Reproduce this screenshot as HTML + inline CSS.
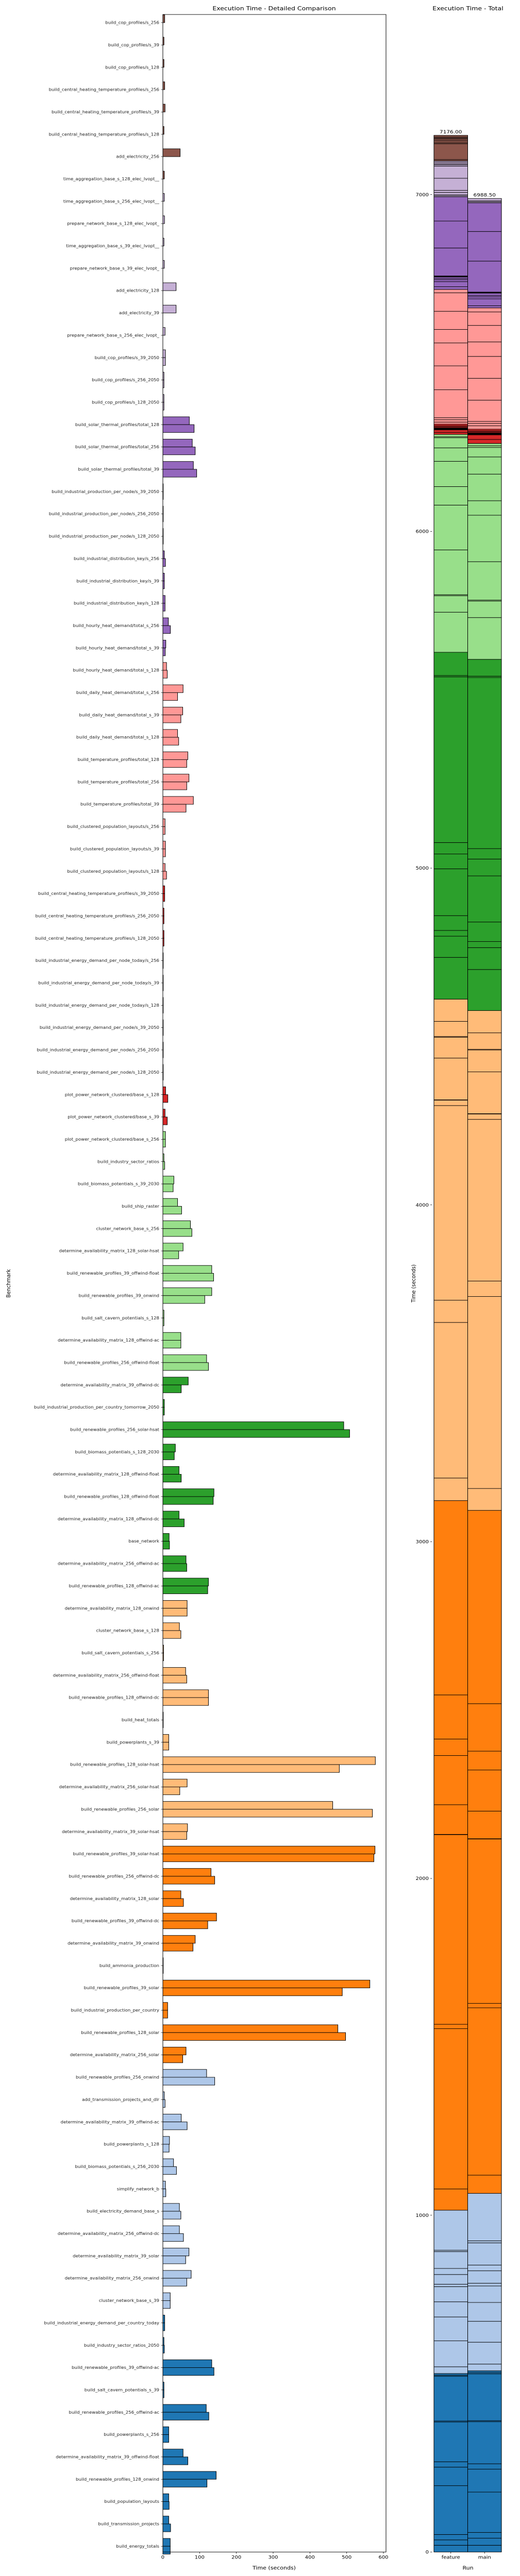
<!DOCTYPE html>
<html>
<head>
<meta charset="utf-8">
<style>
  html,body{margin:0;padding:0;background:#fff;overflow:hidden;width:100%;height:100%;}
  svg{display:block;position:absolute;left:0;top:0;width:100vw;height:100vh;font-family:"DejaVu Sans","Liberation Sans",sans-serif;}
</style>
</head>
<body>
<svg id="chart" xmlns="http://www.w3.org/2000/svg" viewBox="0 0 1009 5690" preserveAspectRatio="none">
  <rect x="0" y="0" width="1009" height="5690" fill="#fff"/>
  <text x="532" y="23" font-size="12.5" text-anchor="middle" fill="#000">Execution Time - Detailed Comparison</text>
  <text x="908" y="23" font-size="12.5" text-anchor="middle" fill="#000">Execution Time - Total</text>
  <text x="0" y="0" font-size="11" text-anchor="middle" transform="translate(20,2835) rotate(-90)">Benchmark</text>
  <text x="532" y="5676" font-size="11" text-anchor="middle">Time (seconds)</text>
  <text x="0" y="0" font-size="11" text-anchor="middle" transform="translate(806,2835) rotate(-90)">Time (seconds)</text>
  <text x="908" y="5676" font-size="11" text-anchor="middle">Run</text>
  <g id="left"></g>
  <g id="right"></g>
</svg>
<script>
const benchmarks = [
"build_cop_profiles/s_256","build_cop_profiles/s_39","build_cop_profiles/s_128",
"build_central_heating_temperature_profiles/s_256","build_central_heating_temperature_profiles/s_39","build_central_heating_temperature_profiles/s_128",
"add_electricity_256","time_aggregation_base_s_128_elec_lvopt__","time_aggregation_base_s_256_elec_lvopt__",
"prepare_network_base_s_128_elec_lvopt_","time_aggregation_base_s_39_elec_lvopt__","prepare_network_base_s_39_elec_lvopt_",
"add_electricity_128","add_electricity_39","prepare_network_base_s_256_elec_lvopt_",
"build_cop_profiles/s_39_2050","build_cop_profiles/s_256_2050","build_cop_profiles/s_128_2050",
"build_solar_thermal_profiles/total_128","build_solar_thermal_profiles/total_256","build_solar_thermal_profiles/total_39",
"build_industrial_production_per_node/s_39_2050","build_industrial_production_per_node/s_256_2050","build_industrial_production_per_node/s_128_2050",
"build_industrial_distribution_key/s_256","build_industrial_distribution_key/s_39","build_industrial_distribution_key/s_128",
"build_hourly_heat_demand/total_s_256","build_hourly_heat_demand/total_s_39","build_hourly_heat_demand/total_s_128",
"build_daily_heat_demand/total_s_256","build_daily_heat_demand/total_s_39","build_daily_heat_demand/total_s_128",
"build_temperature_profiles/total_128","build_temperature_profiles/total_256","build_temperature_profiles/total_39",
"build_clustered_population_layouts/s_256","build_clustered_population_layouts/s_39","build_clustered_population_layouts/s_128",
"build_central_heating_temperature_profiles/s_39_2050","build_central_heating_temperature_profiles/s_256_2050","build_central_heating_temperature_profiles/s_128_2050",
"build_industrial_energy_demand_per_node_today/s_256","build_industrial_energy_demand_per_node_today/s_39","build_industrial_energy_demand_per_node_today/s_128",
"build_industrial_energy_demand_per_node/s_39_2050","build_industrial_energy_demand_per_node/s_256_2050","build_industrial_energy_demand_per_node/s_128_2050",
"plot_power_network_clustered/base_s_128","plot_power_network_clustered/base_s_39","plot_power_network_clustered/base_s_256",
"build_industry_sector_ratios","build_biomass_potentials_s_39_2030","build_ship_raster","cluster_network_base_s_256",
"determine_availability_matrix_128_solar-hsat","build_renewable_profiles_39_offwind-float","build_renewable_profiles_39_onwind",
"build_salt_cavern_potentials_s_128","determine_availability_matrix_128_offwind-ac","build_renewable_profiles_256_offwind-float",
"determine_availability_matrix_39_offwind-dc","build_industrial_production_per_country_tomorrow_2050","build_renewable_profiles_256_solar-hsat",
"build_biomass_potentials_s_128_2030","determine_availability_matrix_128_offwind-float","build_renewable_profiles_128_offwind-float",
"determine_availability_matrix_128_offwind-dc","base_network","determine_availability_matrix_256_offwind-ac","build_renewable_profiles_128_offwind-ac",
"determine_availability_matrix_128_onwind","cluster_network_base_s_128","build_salt_cavern_potentials_s_256",
"determine_availability_matrix_256_offwind-float","build_renewable_profiles_128_offwind-dc","build_heat_totals","build_powerplants_s_39",
"build_renewable_profiles_128_solar-hsat","determine_availability_matrix_256_solar-hsat","build_renewable_profiles_256_solar",
"determine_availability_matrix_39_solar-hsat","build_renewable_profiles_39_solar-hsat","build_renewable_profiles_256_offwind-dc",
"determine_availability_matrix_128_solar","build_renewable_profiles_39_offwind-dc","determine_availability_matrix_39_onwind",
"build_ammonia_production","build_renewable_profiles_39_solar","build_industrial_production_per_country","build_renewable_profiles_128_solar",
"determine_availability_matrix_256_solar","build_renewable_profiles_256_onwind","add_transmission_projects_and_dlr",
"determine_availability_matrix_39_offwind-ac","build_powerplants_s_128","build_biomass_potentials_s_256_2030","simplify_network_b",
"build_electricity_demand_base_s","determine_availability_matrix_256_offwind-dc","determine_availability_matrix_39_solar",
"determine_availability_matrix_256_onwind","cluster_network_base_s_39","build_industrial_energy_demand_per_country_today",
"build_industry_sector_ratios_2050","build_renewable_profiles_39_offwind-ac","build_salt_cavern_potentials_s_39",
"build_renewable_profiles_256_offwind-ac","build_powerplants_s_256","determine_availability_matrix_39_offwind-float",
"build_renewable_profiles_128_onwind","build_population_layouts","build_transmission_projects","build_energy_totals"
];
const featureTimes = [
5,3,3,5,6,3,47,4,4,4.5,3,4,36,36,6,7,3,3,72,80,83,1,1,1,4,4,6,15,8,10,
55,54,40,68,71,83,6,7,6,5,3,3,1,1,1,1,1,1,7.5,6,7,3,30,40,75,55,133,133,3,49,
119,69,4,492,34,44,139,44,17,63,124,66,45,2,62,124,1,16,578,66,462,67,577,131,49,146,88,1,563,13,
476,63,119,4,50,18,29,7,45,45,71,77,20,5,3,133,3,118,16,55,145,16,16,20
];
const mainTimes = [
0,0,0,0,0,0,0,0,0,0,0,0,0,0,0,7,3,3,85,88,92,1,1,1,7,4,6,20.5,6.5,12,
40,49,43,65,65,63,6,7,10,5,3,3,1,1,1,1,1,1,13.5,12,7,5,28,51,79,43,138,114,3,49,
124,50,4,508,31,50,137,58,18,65,122,66,49,2,65,124,1,16,480,46,570,65,574,141,56,122,82,1,488,13,
497,54,141,6,66,17,37,8,49,56,62,65,20,5,4,139,3,125,16,68,120,17,21,20
];
const runs = ["feature","main"];
const xTicks = [0,100,200,300,400,500,600];
const yTicksTotal = [0,1000,2000,3000,4000,5000,6000,7000];
const groupStarts = [0,8,18,29,39,50,61,71,82,92,103];
const groupColors = ["#8c564b","#c5b0d5","#9467bd","#ff9896","#d62728","#98df8a","#2ca02c","#ffbb78","#ff7f0e","#aec7e8","#1f77b4"];

const NS = "http://www.w3.org/2000/svg";
function mk(tag, attrs, parent){ const e=document.createElementNS(NS,tag); for(const k in attrs) e.setAttribute(k,attrs[k]); parent.appendChild(e); return e; }
function colorFor(i){ let c=groupColors[0]; for(let g=0; g<groupStarts.length; g++){ if(i>=groupStarts[g]) c=groupColors[g]; } return c; }

const L = {x0:316, x1:749, top:32, bottom:5637, xmax:607};
const rowStep = 49.33, rowY0 = 50, barH = 17.3;
function xL(v){ return L.x0 + v/L.xmax*(L.x1-L.x0); }
function yRow(i){ return rowY0 + i*rowStep; }
const left = document.getElementById('left');

for(let i=0;i<benchmarks.length;i++){
  const yc = yRow(i), col = colorFor(i);
  const g = mk('g',{},left);
  
  
  if(featureTimes[i]>0){
    const r = mk('rect',{x:xL(0),y:yc-barH,width:Math.max(0,xL(featureTimes[i])-xL(0)),height:barH,fill:col,stroke:'#000','stroke-width':1},g);
    
    
  }
  if(mainTimes[i]>0){
    const r = mk('rect',{x:xL(0),y:yc,width:Math.max(0,xL(mainTimes[i])-xL(0)),height:barH,fill:col,stroke:'#000','stroke-width':1},g);
    
    
  }
  const tk = mk('line',{x1:L.x0-3.5,x2:L.x0,y1:yc,y2:yc,stroke:'#000','stroke-width':0.8},g);
  
  
  const t = mk('text',{x:L.x0-7,y:yc+3,'font-size':8.6,'text-anchor':'end',fill:'#222'},g);
  t.textContent = benchmarks[i];
  
  
}
const frame = mk('rect',{x:L.x0,y:L.top,width:L.x1-L.x0,height:L.bottom-L.top,fill:'none',stroke:'#000','stroke-width':1},left);


xTicks.forEach(v=>{
  const x = xL(v);
  const l = mk('line',{x1:x,x2:x,y1:L.bottom,y2:L.bottom+3.5,stroke:'#000','stroke-width':0.8},left);
  
  
  const t = mk('text',{x:x,y:L.bottom+15,'font-size':10,'text-anchor':'middle'},left);
  t.textContent = v;
  
  
});

const R = {top:32, bottom:5637, left:842, barW:65.5};
const seriesList = [featureTimes, mainTimes];
const totals = seriesList.map(s=>s.reduce((a,b)=>a+b,0));
const ymax = Math.max(...totals)*1.05;
function yR(v){ return R.bottom - v/ymax*(R.bottom-R.top); }
const right = document.getElementById('right');
runs.forEach((run,ri)=>{
  const s = seriesList[ri];
  const bx = R.left + ri*R.barW;
  const g = mk('g',{},right);
  
  
  let cum = 0;
  for(let i=benchmarks.length-1;i>=0;i--){
    const v = s[i]; if(!(v>0)) continue;
    const y1 = yR(cum+v), y0 = yR(cum);
    const r = mk('rect',{x:bx,y:y1,width:R.barW,height:y0-y1,fill:colorFor(i),stroke:'#000','stroke-width':1},g);
    
    
    cum += v;
  }
  const lbl = mk('text',{x:bx+R.barW/2,y:yR(totals[ri])-4,'font-size':10.5,'text-anchor':'middle'},g);
  lbl.textContent = totals[ri].toFixed(2);
  
  
  const tk = mk('line',{x1:bx+R.barW/2,x2:bx+R.barW/2,y1:R.bottom,y2:R.bottom+3.5,stroke:'#000','stroke-width':0.8},g);
  
  
  const tl = mk('text',{x:bx+R.barW/2,y:R.bottom+15,'font-size':10,'text-anchor':'middle'},g);
  tl.textContent = run;
  
  
});
yTicksTotal.forEach(v=>{
  const y = yR(v);
  const l = mk('line',{x1:R.left-7,x2:R.left-3.5,y1:y,y2:y,stroke:'#000','stroke-width':0.8},right);
  
  
  const t = mk('text',{x:R.left-10,y:y+3.5,'font-size':10,'text-anchor':'end'},right);
  t.textContent = v;
  
  
});
</script>
</body>
</html>
